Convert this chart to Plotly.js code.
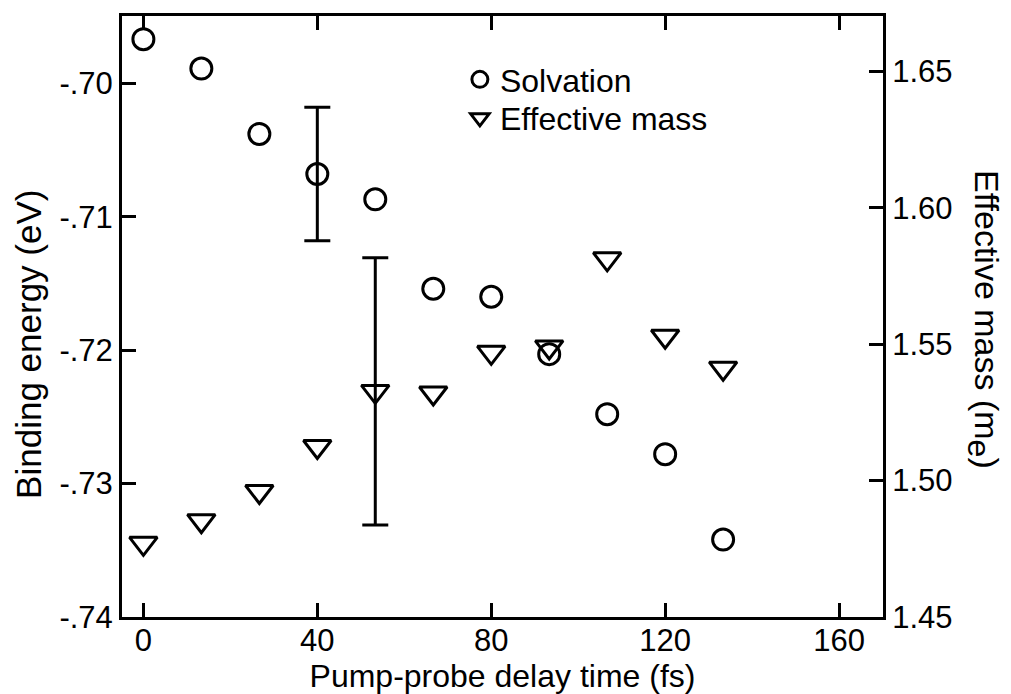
<!DOCTYPE html>
<html>
<head>
<meta charset="utf-8">
<script src="https://cdn.plot.ly/plotly-3.0.1.min.js"></script>
<style>html,body{margin:0;padding:0;background:#fff;}#chart{width:1011px;height:694px;}</style>
</head>
<body>
<div id="chart"></div>
<script>
// Pump-probe delay times (fs)
var delay = [0, 13.33, 26.67, 40, 53.33, 66.67, 80, 93.33, 106.67, 120, 133.33];
// Solvation: binding energy (eV), left axis
var solvation = [-0.6967, -0.6989, -0.7038, -0.7068, -0.7087, -0.7154, -0.7160, -0.7203, -0.7248, -0.7278, -0.7342];
var solvationErr = [null, null, null, 0.005, null, null, null, null, null, null, null];
// Effective mass (m_e), right axis
var effMass = [1.4770, 1.4853, 1.4960, 1.5125, 1.5327, 1.5321, 1.5470, 1.5490, 1.5813, 1.5529, 1.5412];
var effMassErr = [null, null, null, null, 0.049, null, null, null, null, null, null];
// Tick labels
var xTicks = [0, 40, 80, 120, 160];
var yLeftTicks = [-0.74, -0.73, -0.72, -0.71, -0.70];
var yLeftLabels = ['-.74', '-.73', '-.72', '-.71', '-.70'];
var yRightTicks = [1.45, 1.50, 1.55, 1.60, 1.65];
var yRightLabels = ['1.45', '1.50', '1.55', '1.60', '1.65'];

function errArr(a){ return a.map(function(v){ return v == null ? NaN : v; }); }

var FONT = 'Liberation Sans, Arial, sans-serif';

var traces = [
  {
    x: delay, y: solvation, name: 'Solvation', type: 'scatter', mode: 'markers',
    yaxis: 'y', legend: 'legend',
    marker: {symbol: 'circle-open', size: 21, color: '#000', line: {width: 3, color: '#000'}},
    error_y: {type: 'data', array: errArr(solvationErr), visible: true, color: '#000', thickness: 3, width: 13}
  },
  {
    x: delay, y: effMass, name: 'Effective mass', type: 'scatter', mode: 'markers',
    yaxis: 'y2', legend: 'legend2',
    marker: {symbol: 'triangle-down-open', size: 24, color: '#000', line: {width: 3, color: '#000'}},
    error_y: {type: 'data', array: errArr(effMassErr), visible: true, color: '#000', thickness: 3, width: 13}
  }
];

var axisCommon = {
  showgrid: false, zeroline: false, showline: true, linecolor: '#000', linewidth: 3,
  ticks: 'inside', ticklen: 14, tickwidth: 3, tickcolor: '#000',
  tickfont: {family: FONT, size: 31, color: '#000'}
};

var legendCommon = {xanchor: 'left', yanchor: 'top', bgcolor: 'rgba(0,0,0,0)',
                    font: {family: FONT, size: 32, color: '#000'}};

var layout = {
  width: 1011, height: 694,
  paper_bgcolor: '#fff', plot_bgcolor: '#fff',
  margin: {l: 122, r: 128, t: 16, b: 77, pad: 0},
  showlegend: true,
  legend: Object.assign({}, legendCommon, {x: 0.444, y: 0.94}),
  legend2: Object.assign({}, legendCommon, {x: 0.444, y: 0.876}),
  xaxis: Object.assign({}, axisCommon, {
    range: [-4.92, 170.1], tickmode: 'array', tickvals: xTicks, mirror: 'ticks',
    ticklabelstandoff: -6,
    title: {text: 'Pump-probe delay time (fs)', font: {family: FONT, size: 32, color: '#000'}, standoff: 0}
  }),
  yaxis: Object.assign({}, axisCommon, {
    range: [-0.74, -0.69496], tickmode: 'array', tickvals: yLeftTicks, ticktext: yLeftLabels, side: 'left'
  }),
  yaxis2: Object.assign({}, axisCommon, {
    range: [1.45, 1.6703], tickmode: 'array', tickvals: yRightTicks, ticktext: yRightLabels,
    side: 'right', overlaying: 'y'
  }),
  annotations: [
    {text: 'Binding energy (eV)', xref: 'paper', yref: 'paper', x: -0.122, y: 0.453,
     xanchor: 'center', yanchor: 'middle', textangle: -90, showarrow: false,
     font: {family: FONT, size: 35, color: '#000'}},
    {text: 'Effective mass (m<sub><span style="font-size:32px">e</span></sub>)', xref: 'paper', yref: 'paper', x: 1.132, y: 0.495,
     xanchor: 'center', yanchor: 'middle', textangle: 90, showarrow: false,
     font: {family: FONT, size: 34, color: '#000'}}
  ]
};

Plotly.newPlot('chart', traces, layout, {displayModeBar: false, staticPlot: true});
</script>
</body>
</html>
